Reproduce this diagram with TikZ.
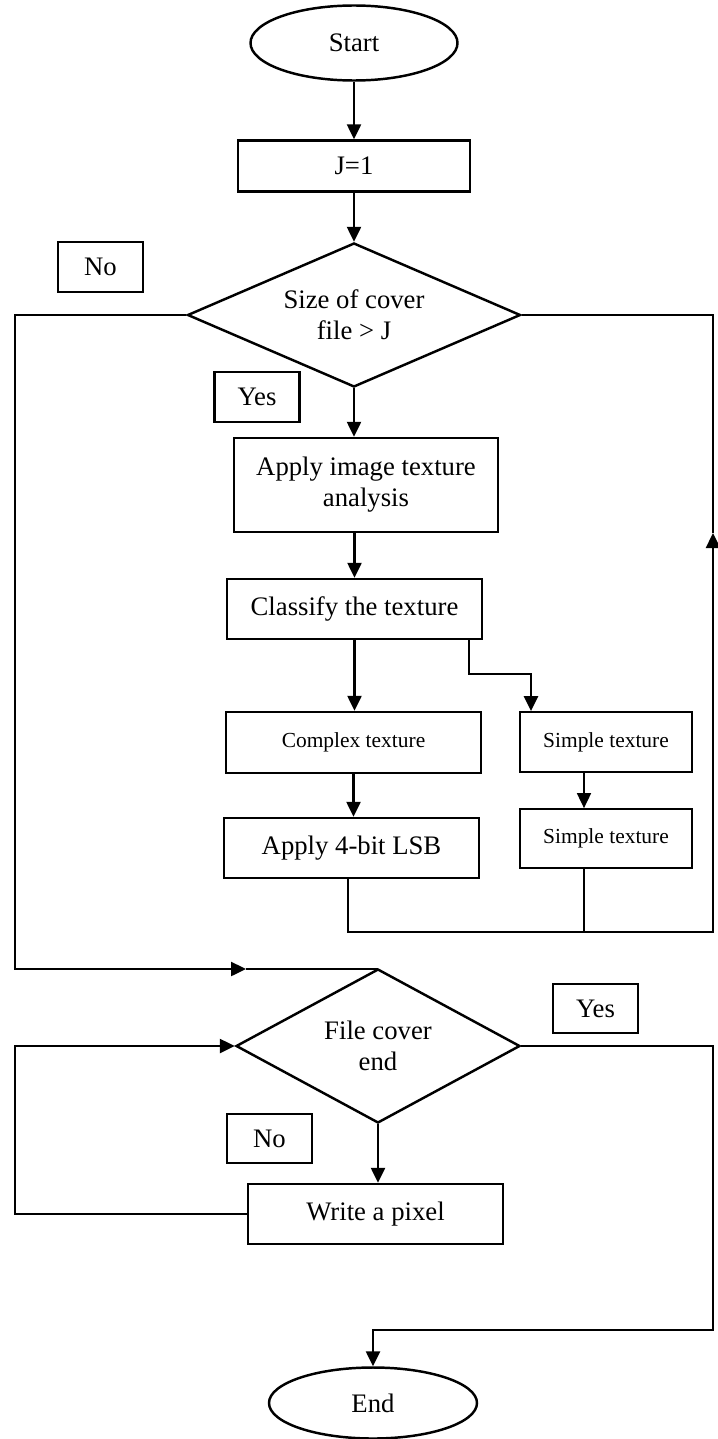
\documentclass[tikz,border=0pt]{standalone}
\usepackage{fontspec}
\setmainfont{Liberation Serif}
\usetikzlibrary{shapes.geometric,arrows.meta}
\begin{document}
\begin{tikzpicture}[
        line width=1.4pt,
        every node/.style={font=\fontsize{15.2}{17.6}\selectfont, align=center, inner sep=0pt},
        blk/.style={draw, rectangle, minimum width=5.1cm, minimum height=1.2cm},
        sblk/.style={draw, rectangle, line width=1pt, minimum width=3.44cm, minimum height=1.2cm, font=\fontsize{12.2}{14}\selectfont},
        oval/.style={draw, ellipse, minimum width=4.14cm, minimum height=1.5cm},
        dec/.style={draw, diamond, aspect=2.3},
        lbl/.style={draw, rectangle, minimum width=1.7cm, minimum height=1cm},
        arr/.style={-{Triangle[length=0.3cm,width=0.28cm]}},
        thin/.style={line width=1pt}
    ]
            \useasboundingbox (0,0) rectangle (14.36,-28.78);
            \draw (7.08,-0.86) node[oval] (start) {Start};
            \draw (7.08,-3.32) node[blk, minimum width=4.64cm, minimum height=1.02cm] (init) {J=1};
            \draw (7.08,-6.30) node[dec, minimum width=6.66cm, minimum height=2.88cm] (size) {Size of cover\\file > J};
            \draw (2.01,-5.34) node[lbl] (no1) {No};
            \draw (5.14,-7.94) node[lbl] (yes1) {Yes};
            \draw (7.32,-9.70) node[blk, minimum width=5.28cm, minimum height=1.88cm] (texana) {Apply image texture\\analysis};
            \draw (7.09,-12.18) node[blk] (classify) {Classify the texture};
            \draw (7.07,-14.85) node[blk, minimum height=1.22cm, font=\fontsize{12.2}{14}\selectfont] (cpx) {Complex texture};
            \draw (12.12,-14.84) node[sblk] (smp) {Simple texture};
            \draw (7.03,-16.96) node[blk] (lsb) {Apply 4-bit LSB};
            \draw (12.12,-16.77) node[sblk, minimum height=1.18cm] (smp2) {Simple texture};
            \draw (7.56,-20.92) node[dec, aspect=1.84, minimum width=5.68cm, minimum height=3.08cm] (eof) {File cover\\end};
            \draw (11.91,-20.17) node[lbl, minimum height=0.98cm] (yes2) {Yes};
            \draw (5.39,-22.77) node[lbl, minimum height=0.98cm] (no2) {No};
            \draw (7.51,-24.28) node[blk] (pix) {Write a pixel};
            \draw (7.46,-28.06) node[oval, minimum width=4.16cm, minimum height=1.42cm] (stop) {End};
            \coordinate (lt) at (0.30,-6.30);
            \coordinate (lb) at (0.30,-19.38);
            \coordinate (lmid) at (4.92,-19.38);
            \coordinate (rb) at (14.26,-18.64);
            \coordinate (rup) at (14.26,-10.66);
            \coordinate (yr) at (14.26,-26.60);
            \draw[arr] (start) -- (init);
            \draw[arr] (init) -- (size);
            \draw[arr] (size.south) -- (size.south |- texana.north);
            \draw[arr] (classify.north |- texana.south) -- (classify.north);
            \draw[arr] (classify.south) -- (classify.south |- cpx.north);
            \draw[arr] ([xshift=2.29cm]classify.south) -- ++(0,-0.68) -| ([xshift=-1.5cm]smp.north);
            \draw[arr] (cpx.south) -- (cpx.south |- lsb.north);
            \draw[arr, thin] ([xshift=-0.44cm]smp.south) -- ([xshift=-0.44cm]smp2.north);
            \draw[arr] ([xshift=-0.07cm]lsb.south) -- ([xshift=-0.07cm]lsb.south |- rb) -- (rb) -- (rup);
            \draw[thin] ([xshift=-0.44cm]smp2.south) -- ([xshift=-0.44cm]smp2.south |- rb);
            \draw (rup) -- (size.east -| rup) -- (size.east);
            \draw[arr] (size.west) -- (lt) -- (lb) -- (lmid);
            \draw (lmid) -- (lmid -| eof.north);
            \draw[arr] (eof.south) -- (eof.south |- pix.north);
            \draw[arr] (pix.west) -- (pix.west -| lb) -- (eof.west -| lb) -- (eof.west);
            \draw[arr] (eof.east) -- (eof.east -| yr) -- (yr) -- (yr -| stop.north) -- (stop.north);
        \end{tikzpicture}
\end{document}
